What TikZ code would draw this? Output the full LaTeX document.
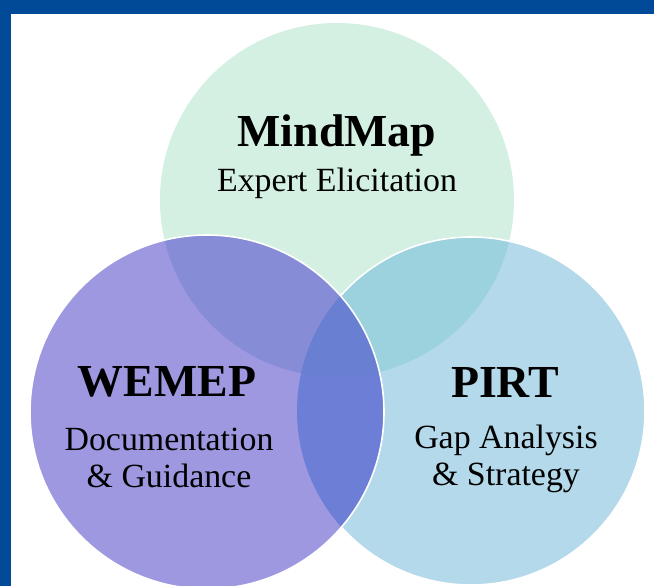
\documentclass[tikz,border=0pt]{standalone}
\usepackage{fontspec}
\setmainfont{Liberation Serif}
\usepackage{tikz}
\usetikzlibrary{positioning}
\definecolor{framecol}{RGB}{0,74,152}
\definecolor{mindcol}{RGB}{211,240,227}
\definecolor{wemepcol}{RGB}{157,152,224}
\definecolor{pirtcol}{RGB}{180,217,234}
\definecolor{mwcol}{RGB}{135,140,215}
\definecolor{mpcol}{RGB}{155,210,222}
\definecolor{wpcol}{RGB}{108,126,214}
\definecolor{allcol}{RGB}{105,128,210}
\tikzstyle{title} = [inner sep=0pt, anchor=base, font=\fontsize{46}{50}\selectfont\bfseries]
\tikzstyle{subtitle} = [inner sep=0pt, anchor=base, align=center, font=\fontsize{34}{37}\selectfont]
\tikzstyle{rim} = [draw=white, line width=1.6pt]

\begin{document}
\begin{tikzpicture}[x=1bp, y=-1bp]
		% picture in pixels of the reference, y pointing down
		\useasboundingbox (0,0) rectangle (654,586);
		
		% circle parameters
		\def\mx{337} \def\my{200} \def\mr{177} % MindMap
		\def\wx{207} \def\wy{412} \def\wr{177} % WEMEP
		\def\px{471} \def\py{411} \def\pr{174} % PIRT
		
		% ---- 1. frame ----
		\fill[framecol] (0,0) rectangle (654,586);
		\fill[white] (11,14) rectangle (654,586);
		
		% ---- 2. MindMap circle ----
		\fill[mindcol] (\mx,\my) circle (\mr);
		
		% ---- 3. PIRT circle and its overlap with MindMap ----
		\fill[pirtcol] (\px,\py) circle (\pr);
		\begin{scope}
			\clip (\mx,\my) circle (\mr);
			\fill[mpcol] (\px,\py) circle (\pr);
		\end{scope}
		\draw[rim] (\px,\py) circle (\pr);
		
		% ---- 4. WEMEP circle and its overlaps ----
		\fill[wemepcol] (\wx,\wy) circle (\wr);
		\begin{scope}
			\clip (\wx,\wy) circle (\wr);
			\fill[mwcol] (\mx,\my) circle (\mr);
			\fill[wpcol] (\px,\py) circle (\pr);
			\clip (\px,\py) circle (\pr);
			\fill[allcol] (\mx,\my) circle (\mr);
		\end{scope}
		\draw[rim] (\wx,\wy) circle (\wr);
		
		% ---- 5. labels (base of a two-line text = its last line) ----
		\node[title] (mind) at (337,147) {MindMap};
		\node[subtitle] (minddesc) at (337,192) {Expert Elicitation};
		
		\node[title] (wemep) at (167,396) {WEMEP};
		\node[subtitle] (wemepdesc) at (169,487) {Documentation\\\& Guidance};
		
		\node[title] (pirt) at (505,397) {PIRT};
		\node[subtitle] (pirtdesc) at (506,485) {Gap Analysis\\\& Strategy};
		
	\end{tikzpicture}
\end{document}
